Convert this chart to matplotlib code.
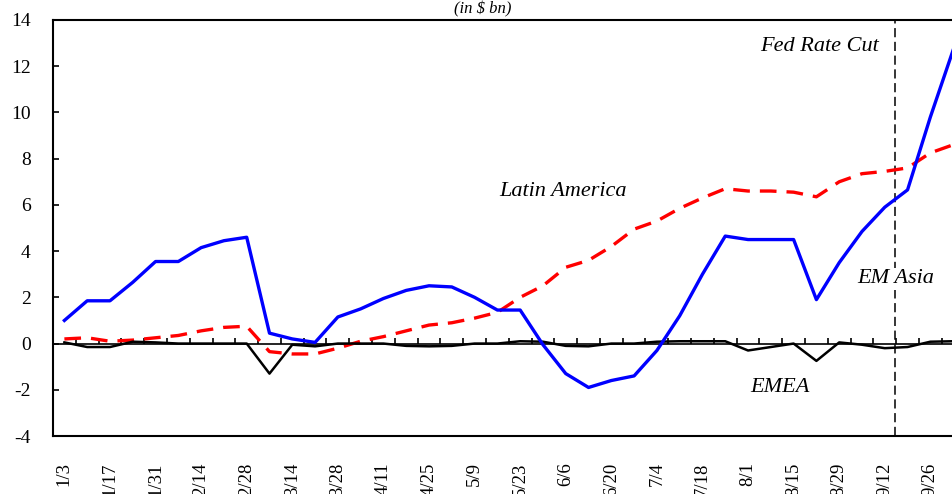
# flujos semanales por region (in $ bn)

import matplotlib.pyplot as plt

semanas = ['1/3', '1/10', '1/17', '1/24', '1/31', '2/7', '2/14', '2/21', '2/28', '3/7',
           '3/14', '3/21', '3/28', '4/4', '4/11', '4/18', '4/25', '5/2', '5/9', '5/16',
           '5/23', '5/30', '6/6', '6/13', '6/20', '6/27', '7/4', '7/11', '7/18', '7/25',
           '8/1', '8/8', '8/15', '8/22', '8/29', '9/5', '9/12', '9/19', '9/26', '10/3']

em_asia = [1.0, 1.85, 1.85, 2.65, 3.55, 3.55, 4.15, 4.45, 4.6, 0.45,
           0.2, 0.05, 1.15, 1.5, 1.95, 2.3, 2.5, 2.45, 2.0, 1.45,
           1.45, -0.05, -1.3, -1.9, -1.6, -1.4, -0.3, 1.2, 3.0, 4.65,
           4.5, 4.5, 4.5, 1.9, 3.5, 4.85, 5.9, 6.65, 9.8, 12.7]

latin_america = [0.2, 0.25, 0.1, 0.15, 0.25, 0.35, 0.55, 0.7, 0.75, -0.35,
                 -0.45, -0.45, -0.2, 0.1, 0.3, 0.55, 0.8, 0.9, 1.1, 1.35,
                 2.0, 2.5, 3.3, 3.6, 4.2, 4.95, 5.3, 5.85, 6.3, 6.7,
                 6.6, 6.6, 6.55, 6.35, 7.0, 7.35, 7.45, 7.6, 8.25, 8.6]

emea = [0.05, -0.15, -0.15, 0.08, 0.05, 0.0, 0.0, 0.0, 0.0, -1.3,
        -0.05, -0.12, 0.0, 0.0, 0.0, -0.1, -0.12, -0.1, 0.0, 0.0,
        0.1, 0.08, -0.1, -0.12, 0.0, 0.0, 0.08, 0.1, 0.1, 0.1,
        -0.3, -0.15, 0.0, -0.75, 0.05, -0.05, -0.2, -0.15, 0.08, 0.1]

recorte_fed = 36.45  # semana de la baja de tasas

plt.rcParams['font.family'] = ['Liberation Serif', 'DejaVu Serif']
plt.rcParams['axes.unicode_minus'] = False

fig = plt.figure(figsize=(9.52, 4.94), dpi=100)
ax = fig.add_axes([53 / 952, 1 - 436 / 494, 1 - 53 / 952, 416 / 494])

x = list(range(len(semanas)))

ax.plot(x, latin_america, color='red', linewidth=2.4, dashes=(5, 3), zorder=3)
ax.plot(x, emea, color='black', linewidth=1.8, zorder=3)
ax.plot(x, em_asia, color='blue', linewidth=2.4, zorder=4)
ax.axvline(recorte_fed, color='black', linewidth=1.1, dashes=(6, 3), zorder=2)

ax.set_xlim(-0.5, 38.95)
ax.set_ylim(-4, 14)
ax.set_yticks(range(-4, 15, 2))
ax.tick_params(axis='y', direction='in', length=4, labelsize=14, pad=16, width=1.2)

# etiquetas cada dos semanas, abajo
ax.set_xticks(x[::2])
ax.set_xticklabels(semanas[::2], rotation=90, fontsize=13.5)
ax.tick_params(axis='x', length=0, pad=19)
for lbl in ax.get_xticklabels():
    lbl.set_verticalalignment('top')

# eje en cero con marcas entre categorias
eje0 = ax.secondary_xaxis(4 / 18)
eje0.set_xticks([i + 0.5 for i in x])
eje0.tick_params(direction='in', length=4, width=1.2, labelbottom=False)
eje0.spines['bottom'].set_linewidth(1.2)

for lado in ['left', 'bottom', 'top']:
    ax.spines[lado].set_linewidth(1.5)
ax.spines['right'].set_visible(False)

estilo = dict(fontsize=16, style='italic', zorder=5)
ax.text(35.75, 12.85, 'Fed Rate Cut', ha='right', va='center', **estilo)
ax.text(21.9, 6.6, 'Latin America', ha='center', va='center', **estilo)
ax.text(36.5, 2.8, 'EM Asia', ha='center', va='center',
        bbox=dict(facecolor='white', edgecolor='none', pad=1), **estilo)
ax.text(31.4, -1.9, 'EMEA', ha='center', va='center', **estilo)

fig.text(483 / 952, 1 - 13 / 494, '(in $ bn)', ha='center', va='baseline',
         fontsize=12, style='italic')

fig.savefig('out.png', dpi=100)
